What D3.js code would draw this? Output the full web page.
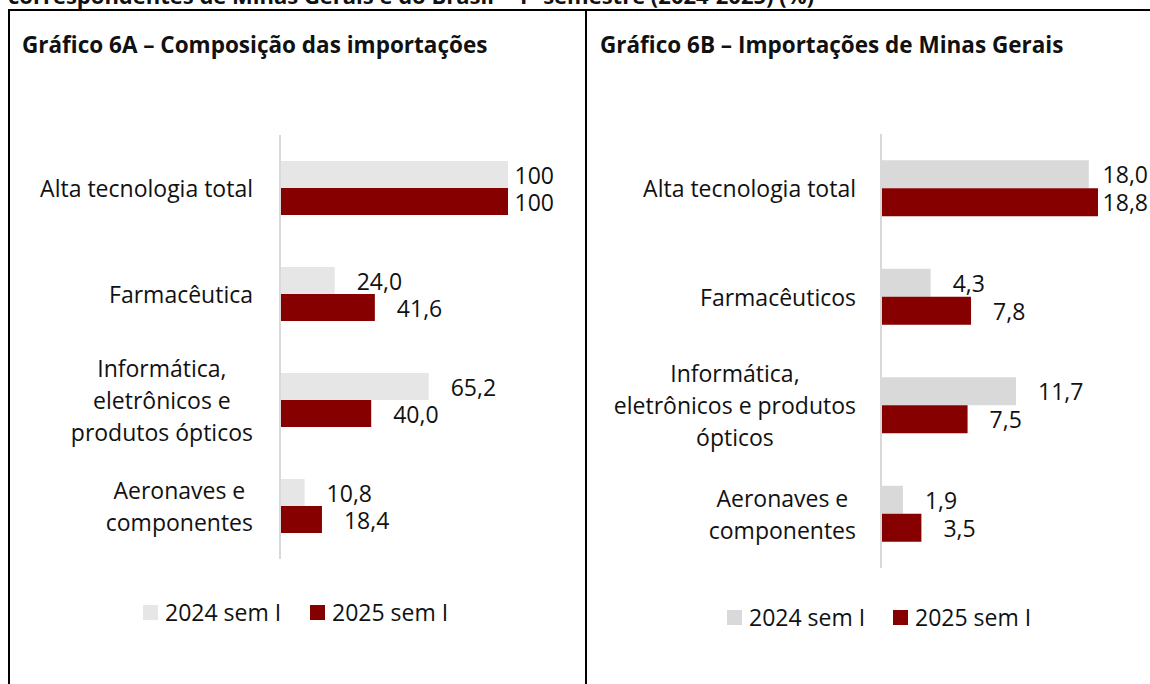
<!DOCTYPE html>
<html>
<head>
<meta charset="utf-8">
<script src="https://cdn.jsdelivr.net/npm/d3@7"></script>
<style>
  body { margin: 0; background: #fff; }
  text { font-family: "Open Sans", Lato, sans-serif; fill: #111; }
</style>
</head>
<body>
<svg width="1150" height="684"></svg>
<script>
// Gráfico 6A / 6B - importações de alta tecnologia

const seriesNames = ["2024 sem I", "2025 sem I"];

const categoriesA = ["Alta tecnologia total", "Farmacêutica", "Informática,\neletrônicos e\nprodutos ópticos", "Aeronaves e\ncomponentes"];
const valuesA2024 = [100, 24.0, 65.2, 10.8];
const valuesA2025 = [100, 41.6, 40.0, 18.4];

const categoriesB = ["Alta tecnologia total", "Farmacêuticos", "Informática,\neletrônicos e produtos\nópticos", "Aeronaves e\ncomponentes"];
const valuesB2024 = [18.0, 4.3, 11.7, 1.9];
const valuesB2025 = [18.8, 7.8, 7.5, 3.5];

const titleA = "Gráfico 6A – Composição das importações";
const titleB = "Gráfico 6B – Importações de Minas Gerais";
const topText = "correspondentes de Minas Gerais e do Brasil – 1º semestre (2024-2025) (%)";

const red = "#870000";
const fontSize = 23;

const ptBR = d3.formatLocale({ decimal: ",", thousands: ".", grouping: [3], currency: ["R$", ""] });
const fmt1 = ptBR.format(".1f");
function fmt(v) {
    return (v >= 100 && v % 1 === 0) ? String(v) : fmt1(v);
}

let svg = d3.select("svg");

// cut-off heading line and frame
svg.append("text")
    .text(topText)
    .attr("x", 8)
    .attr("y", 4)
    .attr("font-size", 22)
    .attr("font-weight", "bold");

svg.append("line").attr("x1", 8).attr("x2", 1150).attr("y1", 10).attr("y2", 10)
    .attr("stroke", "#000").attr("stroke-width", 2);
svg.append("line").attr("x1", 9).attr("x2", 9).attr("y1", 9).attr("y2", 684)
    .attr("stroke", "#000").attr("stroke-width", 2);
svg.append("line").attr("x1", 586).attr("x2", 586).attr("y1", 9).attr("y2", 684)
    .attr("stroke", "#000").attr("stroke-width", 2);

function panel(cfg) {
    let g = svg.append("g");

    g.append("text")
        .text(cfg.title)
        .attr("x", cfg.titleX)
        .attr("y", 53)
        .attr("font-size", 22.5)
        .attr("font-weight", "bold");

    let yScale = d3.scaleBand()
        .domain(cfg.categories)
        .range([cfg.top, cfg.bottom]);
    let inner = d3.scaleBand()
        .domain(seriesNames)
        .range([-cfg.barH, cfg.barH]);
    let xScale = d3.scaleLinear()
        .domain([0, cfg.xMax])
        .range([cfg.x0, cfg.x1]);
    let colors = d3.scaleOrdinal().domain(seriesNames).range([cfg.gray, red]);

    let rows = [];
    cfg.categories.forEach(function(c, i) {
        rows.push({ cat: c, s: seriesNames[0], v: cfg.v2024[i] });
        rows.push({ cat: c, s: seriesNames[1], v: cfg.v2025[i] });
    });

    // bars
    g.selectAll("rect.bar")
        .data(rows)
        .join("rect")
        .attr("class", "bar")
        .attr("x", xScale(0))
        .attr("y", d => yScale(d.cat) + yScale.bandwidth() / 2 + inner(d.s))
        .attr("width", d => xScale(d.v) - xScale(0))
        .attr("height", inner.bandwidth())
        .attr("fill", d => colors(d.s));

    // vertical axis line
    g.append("line")
        .attr("x1", xScale(0)).attr("x2", xScale(0))
        .attr("y1", cfg.top).attr("y2", cfg.bottom)
        .attr("stroke", "#d9d9d9")
        .attr("stroke-width", 2);

    // value labels
    g.selectAll("text.val")
        .data(rows)
        .join("text")
        .attr("class", "val")
        .text(d => fmt(d.v))
        .attr("font-size", fontSize)
        .attr("dominant-baseline", "central")
        .attr("y", d => yScale(d.cat) + yScale.bandwidth() / 2 + inner(d.s) + inner.bandwidth() / 2)
        .attr("x", function(d) {
            let w = this.getComputedTextLength();
            return Math.min(xScale(d.v) + 22, cfg.labelLimit - w);
        });

    // category labels, block right-aligned, lines centred
    cfg.categories.forEach(function(c) {
        let lines = c.split("\n");
        let cy = yScale(c) + yScale.bandwidth() / 2;
        let t = g.append("text")
            .attr("font-size", fontSize)
            .attr("text-anchor", "middle");
        let spans = lines.map(function(l, j) {
            return t.append("tspan")
                .text(l)
                .attr("dominant-baseline", "central")
                .attr("y", cy + (j - (lines.length - 1) / 2) * 32);
        });
        let maxW = d3.max(spans, s => s.node().getComputedTextLength());
        spans.forEach(s => s.attr("x", xScale(0) - cfg.labelGap - maxW / 2));
    });

    // legend
    let lg = g.append("g").attr("transform", `translate(${cfg.legendX}, ${cfg.legendY})`);
    seriesNames.forEach(function(s, i) {
        let item = lg.append("g").attr("transform", `translate(${i * cfg.legendStep}, 0)`);
        item.append("rect")
            .attr("x", 0).attr("y", -7)
            .attr("width", 15).attr("height", 15)
            .attr("fill", colors(s));
        item.append("text")
            .text(s)
            .attr("x", 22)
            .attr("y", 0)
            .attr("font-size", fontSize)
            .attr("dominant-baseline", "central");
    });
}

panel({
    title: titleA, titleX: 22,
    categories: categoriesA, v2024: valuesA2024, v2025: valuesA2025,
    xMax: 100, x0: 280, x1: 508,
    top: 135, bottom: 559, barH: 27,
    gray: "#e6e6e6", labelLimit: 554, labelGap: 27,
    legendX: 143, legendY: 612, legendStep: 167
});

panel({
    title: titleB, titleX: 600,
    categories: categoriesB, v2024: valuesB2024, v2025: valuesB2025,
    xMax: 18.8, x0: 881, x1: 1098,
    top: 134, bottom: 568, barH: 28,
    gray: "#d9d9d9", labelLimit: 1148, labelGap: 25,
    legendX: 727, legendY: 617, legendStep: 166
});
</script>
</body>
</html>
